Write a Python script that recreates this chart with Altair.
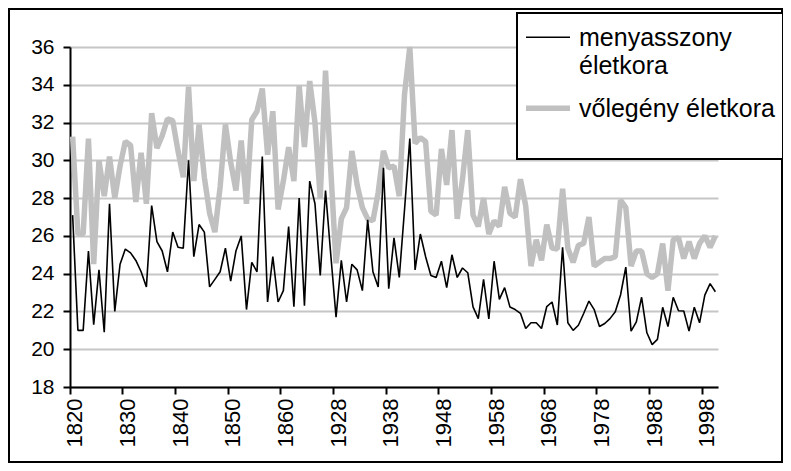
import altair as alt
import pandas as pd

# Category axis: two blocks of years (the source skips 1870-1927)
years = [str(y) for y in list(range(1820, 1870)) + list(range(1928, 2001))]
tick_labels = ["1820", "1830", "1840", "1850", "1860", "1928", "1938",
               "1948", "1958", "1968", "1978", "1988", "1998"]
y_ticks = [18, 20, 22, 24, 26, 28, 30, 32, 34, 36]

bride = [27.1, 21.0, 21.0, 25.2, 21.3, 24.2, 20.9, 27.7, 22.0, 24.5,
         25.3, 25.1, 24.7, 24.1, 23.3, 27.6, 25.7, 25.2, 24.1, 26.2,
         25.4, 25.35, 30.0, 24.9, 26.6, 26.2, 23.3, 23.7, 24.1, 25.35,
         23.6, 25.2, 26.0, 22.1, 24.6, 24.1, 30.2, 22.5, 24.9, 22.5,
         23.1, 26.5, 22.25, 28.0, 22.3, 28.9, 27.7, 23.9, 28.4, 25.0,
         21.7, 24.7, 22.5, 24.5, 24.2, 23.1, 26.85, 24.1, 23.3, 29.6,
         23.2, 25.9, 23.8, 27.4, 31.15, 24.2, 26.1, 24.9, 23.9, 23.8,
         24.66, 23.26, 25.0, 23.8, 24.3, 24.05, 22.24, 21.62, 23.7, 21.6,
         24.66, 22.64, 23.26, 22.24, 22.1, 21.9, 21.1, 21.4, 21.4, 21.1,
         22.26, 22.5, 21.28, 25.4, 21.4, 21.0, 21.27, 21.89, 22.55, 22.1,
         21.2, 21.36, 21.62, 21.98, 22.87, 24.35, 20.96, 21.45, 22.75, 20.87,
         20.24, 20.52, 22.22, 21.2, 22.75, 22.04, 22.02, 20.96, 22.22, 21.4,
         22.86, 23.47, 23.04]

groom = [31.25, 26.1, 26.1, 31.15, 24.5, 30.0, 28.1, 30.2, 28.0, 29.7,
         31.0, 30.8, 27.8, 30.4, 27.7, 32.5, 30.65, 31.3, 32.2, 32.1,
         30.5, 29.1, 33.9, 28.9, 31.9, 29.1, 27.2, 26.2, 28.6, 31.9,
         29.9, 28.4, 31.05, 27.7, 32.15, 32.6, 33.8, 30.3, 32.6, 27.4,
         28.9, 30.7, 28.9, 33.95, 30.7, 34.2, 32.0, 28.0, 34.75, 29.5,
         24.55, 26.9, 27.5, 30.5, 28.7, 27.5, 26.9, 26.8, 28.3, 30.5,
         29.6, 29.7, 28.1, 33.5, 36.0, 30.9, 31.2, 31.0, 27.3, 27.1,
         30.6, 28.7, 31.6, 26.9, 29.0, 31.6, 27.1, 26.5, 28.0, 26.1,
         26.8, 26.5, 28.6, 27.2, 27.0, 29.0, 27.6, 24.4, 25.8, 24.7,
         26.6, 25.35, 25.3, 28.5, 25.35, 24.6, 25.5, 25.6, 27.0, 24.4,
         24.6, 24.8, 24.8, 24.9, 27.9, 27.5, 24.4, 25.2, 25.2, 24.0,
         23.8, 24.0, 25.6, 23.1, 25.8, 25.9, 24.8, 25.7, 24.8, 25.6,
         26.0, 25.4, 26.0]

series_names = ["menyasszony életkora", "vőlegény életkora"]
series_colors = ["#000000", "#c0c0c0"]
series_widths = [1.6, 5.5]

df = pd.DataFrame({
    "ev": years + years,
    "kor": bride + groom,
    "sorozat": [series_names[0]] * len(years) + [series_names[1]] * len(years),
})

FONT = "Liberation Sans"
W, H = 648, 340

x_enc = alt.X(
    "ev:O", sort=None, bandPosition=0.5,
    scale=alt.Scale(type="band", paddingInner=0, paddingOuter=0),
    axis=alt.Axis(values=tick_labels, bandPosition=0, labelOffset=2.6,
                  labelAngle=270, labelFontSize=22, labelPadding=4,
                  tickSize=7, title=None, grid=False),
)
y_enc = alt.Y(
    "kor:Q",
    scale=alt.Scale(domain=[18, 36], nice=False, zero=False),
    axis=alt.Axis(values=y_ticks, title=None, labelFontSize=21, tickSize=7,
                  labelPadding=9, grid=True, gridColor="#c6c6c6", gridWidth=2),
)
color_enc = alt.Color("sorozat:N",
                      scale=alt.Scale(domain=series_names, range=series_colors),
                      legend=None)
width_enc = alt.StrokeWidth("sorozat:N",
                            scale=alt.Scale(domain=series_names, range=series_widths),
                            legend=None)

base = alt.Chart(df).mark_line(strokeJoin="bevel").encode(
    x=x_enc, y=y_enc, color=color_enc, strokeWidth=width_enc
)
gray_line = base.transform_filter(alt.datum.sorozat == series_names[1])
black_line = base.transform_filter(alt.datum.sorozat == series_names[0])

one = pd.DataFrame({"f": [0]})

# outer chart frame
frame = alt.Chart(one).mark_rect(fill=None, stroke="black", strokeWidth=2).encode(
    x=alt.value(-61), x2=alt.value(W + 64),
    y=alt.value(-38), y2=alt.value(H + 75),
)

# legend box (drawn by hand to reproduce the two-line first entry)
leg_box = alt.Chart(one).mark_rect(fill="white", stroke="black", strokeWidth=2).encode(
    x=alt.value(447), x2=alt.value(713), y=alt.value(-34), y2=alt.value(112),
)
leg_sym_1 = alt.Chart(one).mark_rule(color=series_colors[0], strokeWidth=series_widths[0]).encode(
    x=alt.value(456), x2=alt.value(500), y=alt.value(-9.7),
)
leg_sym_2 = alt.Chart(one).mark_rule(color=series_colors[1], strokeWidth=series_widths[1]).encode(
    x=alt.value(456), x2=alt.value(500), y=alt.value(61.3),
)
first_lines = series_names[0].split(" ")
txt_kw = dict(font=FONT, fontSize=25, color="black", align="left", baseline="alphabetic")
leg_txt_1a = alt.Chart(one).mark_text(text=first_lines[0], **txt_kw).encode(
    x=alt.value(509), y=alt.value(-1.5))
leg_txt_1b = alt.Chart(one).mark_text(text=first_lines[1], **txt_kw).encode(
    x=alt.value(509), y=alt.value(27.3))
leg_txt_2 = alt.Chart(one).mark_text(text=series_names[1], **txt_kw).encode(
    x=alt.value(509), y=alt.value(69.6))

chart = alt.layer(
    frame, gray_line, black_line,
    leg_box, leg_sym_1, leg_sym_2, leg_txt_1a, leg_txt_1b, leg_txt_2,
).properties(
    width=W, height=H,
    autosize=alt.AutoSizeParams(type="none"),
    padding={"left": 62, "top": 39, "right": 65, "bottom": 76},
    background="white",
).configure_view(stroke=None).configure_axis(
    domainColor="black", domainWidth=2, tickColor="black", tickWidth=2,
    labelColor="black", labelFont=FONT,
)

chart.save("out.html", embed_options={"renderer": "svg", "actions": False})
